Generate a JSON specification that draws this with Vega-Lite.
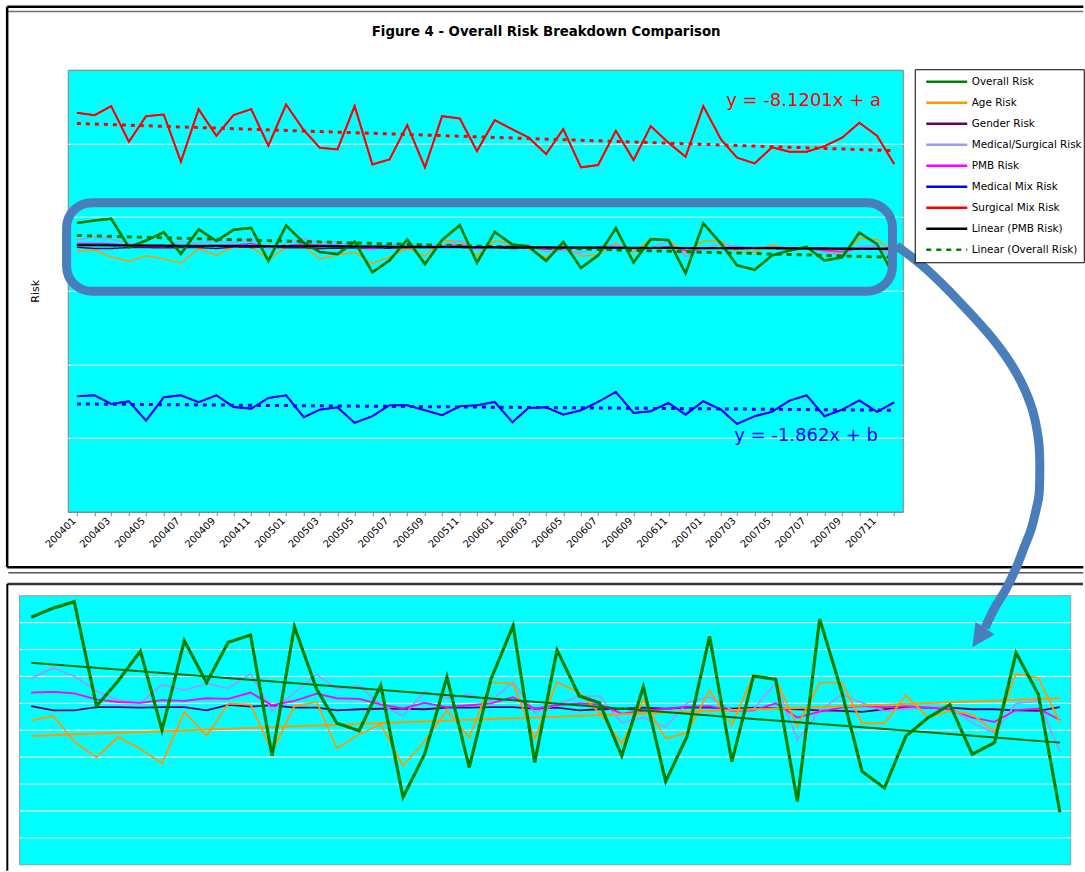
{
"$schema": "https://vega.github.io/schema/vega-lite/v6.json",
"background": "white",
"padding": {"left": 4.75, "top": 4.75, "right": 0, "bottom": 0},
"autosize": {"type": "pad"},
"config": {"font": "DejaVu Sans", "view": {"stroke": null}},
"datasets": {
"risk": [
{"date":"2004-01","series":"Medical Mix Risk","value":156.7},{"date":"2004-02","series":"Medical Mix Risk","value":158.1},{"date":"2004-03","series":"Medical Mix Risk","value":146.3},{"date":"2004-04","series":"Medical Mix Risk","value":150.0},{"date":"2004-05","series":"Medical Mix Risk","value":123.7},{"date":"2004-06","series":"Medical Mix Risk","value":155.4},{"date":"2004-07","series":"Medical Mix Risk","value":158.1},{"date":"2004-08","series":"Medical Mix Risk","value":148.6},{"date":"2004-09","series":"Medical Mix Risk","value":158.1},{"date":"2004-10","series":"Medical Mix Risk","value":142.3},{"date":"2004-11","series":"Medical Mix Risk","value":140.0},{"date":"2004-12","series":"Medical Mix Risk","value":154.5},
{"date":"2005-01","series":"Medical Mix Risk","value":158.1},{"date":"2005-02","series":"Medical Mix Risk","value":128.3},{"date":"2005-03","series":"Medical Mix Risk","value":138.6},{"date":"2005-04","series":"Medical Mix Risk","value":141.9},{"date":"2005-05","series":"Medical Mix Risk","value":120.6},{"date":"2005-06","series":"Medical Mix Risk","value":129.7},{"date":"2005-07","series":"Medical Mix Risk","value":144.6},{"date":"2005-08","series":"Medical Mix Risk","value":144.6},{"date":"2005-09","series":"Medical Mix Risk","value":137.8},{"date":"2005-10","series":"Medical Mix Risk","value":131.0},{"date":"2005-11","series":"Medical Mix Risk","value":143.2},{"date":"2005-12","series":"Medical Mix Risk","value":144.6},
{"date":"2006-01","series":"Medical Mix Risk","value":149.1},{"date":"2006-02","series":"Medical Mix Risk","value":121.5},{"date":"2006-03","series":"Medical Mix Risk","value":140.9},{"date":"2006-04","series":"Medical Mix Risk","value":141.9},{"date":"2006-05","series":"Medical Mix Risk","value":131.8},{"date":"2006-06","series":"Medical Mix Risk","value":137.8},{"date":"2006-07","series":"Medical Mix Risk","value":149.1},{"date":"2006-08","series":"Medical Mix Risk","value":162.6},{"date":"2006-09","series":"Medical Mix Risk","value":134.1},{"date":"2006-10","series":"Medical Mix Risk","value":136.4},{"date":"2006-11","series":"Medical Mix Risk","value":147.7},{"date":"2006-12","series":"Medical Mix Risk","value":131.8},
{"date":"2007-01","series":"Medical Mix Risk","value":150.0},{"date":"2007-02","series":"Medical Mix Risk","value":138.6},{"date":"2007-03","series":"Medical Mix Risk","value":119.2},{"date":"2007-04","series":"Medical Mix Risk","value":129.7},{"date":"2007-05","series":"Medical Mix Risk","value":135.5},{"date":"2007-06","series":"Medical Mix Risk","value":150.8},{"date":"2007-07","series":"Medical Mix Risk","value":158.1},{"date":"2007-08","series":"Medical Mix Risk","value":129.7},{"date":"2007-09","series":"Medical Mix Risk","value":138.6},{"date":"2007-10","series":"Medical Mix Risk","value":151.3},{"date":"2007-11","series":"Medical Mix Risk","value":135.5},{"date":"2007-12","series":"Medical Mix Risk","value":148.6},
{"date":"2004-01","series":"Surgical Mix Risk","value":541.6},{"date":"2004-02","series":"Surgical Mix Risk","value":538.4},{"date":"2004-03","series":"Surgical Mix Risk","value":550.6},{"date":"2004-04","series":"Surgical Mix Risk","value":502.3},{"date":"2004-05","series":"Surgical Mix Risk","value":537.0},{"date":"2004-06","series":"Surgical Mix Risk","value":539.3},{"date":"2004-07","series":"Surgical Mix Risk","value":475.2},{"date":"2004-08","series":"Surgical Mix Risk","value":546.5},{"date":"2004-09","series":"Surgical Mix Risk","value":510.4},{"date":"2004-10","series":"Surgical Mix Risk","value":538.4},{"date":"2004-11","series":"Surgical Mix Risk","value":546.5},{"date":"2004-12","series":"Surgical Mix Risk","value":496.9},
{"date":"2005-01","series":"Surgical Mix Risk","value":552.8},{"date":"2005-02","series":"Surgical Mix Risk","value":518.0},{"date":"2005-03","series":"Surgical Mix Risk","value":494.2},{"date":"2005-04","series":"Surgical Mix Risk","value":491.9},{"date":"2005-05","series":"Surgical Mix Risk","value":550.6},{"date":"2005-06","series":"Surgical Mix Risk","value":471.5},{"date":"2005-07","series":"Surgical Mix Risk","value":478.3},{"date":"2005-08","series":"Surgical Mix Risk","value":524.8},{"date":"2005-09","series":"Surgical Mix Risk","value":467.5},{"date":"2005-10","series":"Surgical Mix Risk","value":537.0},{"date":"2005-11","series":"Surgical Mix Risk","value":533.9},{"date":"2005-12","series":"Surgical Mix Risk","value":489.6},
{"date":"2006-01","series":"Surgical Mix Risk","value":531.6},{"date":"2006-02","series":"Surgical Mix Risk","value":519.0},{"date":"2006-03","series":"Surgical Mix Risk","value":508.1},{"date":"2006-04","series":"Surgical Mix Risk","value":485.5},{"date":"2006-05","series":"Surgical Mix Risk","value":519.4},{"date":"2006-06","series":"Surgical Mix Risk","value":467.5},{"date":"2006-07","series":"Surgical Mix Risk","value":470.6},{"date":"2006-08","series":"Surgical Mix Risk","value":517.2},{"date":"2006-09","series":"Surgical Mix Risk","value":477.4},{"date":"2006-10","series":"Surgical Mix Risk","value":523.5},{"date":"2006-11","series":"Surgical Mix Risk","value":500.9},{"date":"2006-12","series":"Surgical Mix Risk","value":481.9},
{"date":"2007-01","series":"Surgical Mix Risk","value":550.6},{"date":"2007-02","series":"Surgical Mix Risk","value":505.4},{"date":"2007-03","series":"Surgical Mix Risk","value":480.6},{"date":"2007-04","series":"Surgical Mix Risk","value":472.9},{"date":"2007-05","series":"Surgical Mix Risk","value":494.6},{"date":"2007-06","series":"Surgical Mix Risk","value":488.7},{"date":"2007-07","series":"Surgical Mix Risk","value":488.7},{"date":"2007-08","series":"Surgical Mix Risk","value":496.3},{"date":"2007-09","series":"Surgical Mix Risk","value":507.7},{"date":"2007-10","series":"Surgical Mix Risk","value":528.0},{"date":"2007-11","series":"Surgical Mix Risk","value":510.4},{"date":"2007-12","series":"Surgical Mix Risk","value":472.0},
{"date":"2004-01","series":"Age Risk","value":353.7},{"date":"2004-02","series":"Age Risk","value":355.3},{"date":"2004-03","series":"Age Risk","value":345.8},{"date":"2004-04","series":"Age Risk","value":339.9},{"date":"2004-05","series":"Age Risk","value":347.5},{"date":"2004-06","series":"Age Risk","value":343.0},{"date":"2004-07","series":"Age Risk","value":337.7},{"date":"2004-08","series":"Age Risk","value":356.8},{"date":"2004-09","series":"Age Risk","value":347.9},{"date":"2004-10","series":"Age Risk","value":359.9},{"date":"2004-11","series":"Age Risk","value":359.6},{"date":"2004-12","series":"Age Risk","value":342.1},
{"date":"2005-01","series":"Age Risk","value":359.0},{"date":"2005-02","series":"Age Risk","value":360.5},{"date":"2005-03","series":"Age Risk","value":343.3},{"date":"2005-04","series":"Age Risk","value":348.5},{"date":"2005-05","series":"Age Risk","value":352.2},{"date":"2005-06","series":"Age Risk","value":336.8},{"date":"2005-07","series":"Age Risk","value":346.0},{"date":"2005-08","series":"Age Risk","value":357.4},{"date":"2005-09","series":"Age Risk","value":347.3},{"date":"2005-10","series":"Age Risk","value":367.9},{"date":"2005-11","series":"Age Risk","value":367.3},{"date":"2005-12","series":"Age Risk","value":347.0},
{"date":"2006-01","series":"Age Risk","value":367.9},{"date":"2006-02","series":"Age Risk","value":364.0},{"date":"2006-03","series":"Age Risk","value":356.5},{"date":"2006-04","series":"Age Risk","value":345.1},{"date":"2006-05","series":"Age Risk","value":361.2},{"date":"2006-06","series":"Age Risk","value":346.9},{"date":"2006-07","series":"Age Risk","value":349.1},{"date":"2006-08","series":"Age Risk","value":364.9},{"date":"2006-09","series":"Age Risk","value":351.9},{"date":"2006-10","series":"Age Risk","value":370.7},{"date":"2006-11","series":"Age Risk","value":368.9},{"date":"2006-12","series":"Age Risk","value":351.6},
{"date":"2007-01","series":"Age Risk","value":367.7},{"date":"2007-02","series":"Age Risk","value":367.7},{"date":"2007-03","series":"Age Risk","value":352.6},{"date":"2007-04","series":"Age Risk","value":352.6},{"date":"2007-05","series":"Age Risk","value":363.0},{"date":"2007-06","series":"Age Risk","value":354.7},{"date":"2007-07","series":"Age Risk","value":357.2},{"date":"2007-08","series":"Age Risk","value":355.9},{"date":"2007-09","series":"Age Risk","value":349.4},{"date":"2007-10","series":"Age Risk","value":371.0},{"date":"2007-11","series":"Age Risk","value":369.5},{"date":"2007-12","series":"Age Risk","value":352.8},
{"date":"2004-01","series":"Medical/Surgical Risk","value":369.3},{"date":"2004-02","series":"Medical/Surgical Risk","value":373.2},{"date":"2004-03","series":"Medical/Surgical Risk","value":370.1},{"date":"2004-04","series":"Medical/Surgical Risk","value":364.6},{"date":"2004-05","series":"Medical/Surgical Risk","value":361.2},{"date":"2004-06","series":"Medical/Surgical Risk","value":360.2},{"date":"2004-07","series":"Medical/Surgical Risk","value":367.0},{"date":"2004-08","series":"Medical/Surgical Risk","value":364.9},{"date":"2004-09","series":"Medical/Surgical Risk","value":367.4},{"date":"2004-10","series":"Medical/Surgical Risk","value":365.6},{"date":"2004-11","series":"Medical/Surgical Risk","value":371.0},{"date":"2004-12","series":"Medical/Surgical Risk","value":357.2},
{"date":"2005-01","series":"Medical/Surgical Risk","value":364.0},{"date":"2005-02","series":"Medical/Surgical Risk","value":370.7},{"date":"2005-03","series":"Medical/Surgical Risk","value":365.4},{"date":"2005-04","series":"Medical/Surgical Risk","value":366.7},{"date":"2005-05","series":"Medical/Surgical Risk","value":359.3},{"date":"2005-06","series":"Medical/Surgical Risk","value":355.3},{"date":"2005-07","series":"Medical/Surgical Risk","value":364.3},{"date":"2005-08","series":"Medical/Surgical Risk","value":361.9},{"date":"2005-09","series":"Medical/Surgical Risk","value":363.3},{"date":"2005-10","series":"Medical/Surgical Risk","value":360.9},{"date":"2005-11","series":"Medical/Surgical Risk","value":367.9},{"date":"2005-12","series":"Medical/Surgical Risk","value":356.5},
{"date":"2006-01","series":"Medical/Surgical Risk","value":359.6},{"date":"2006-02","series":"Medical/Surgical Risk","value":362.7},{"date":"2006-03","series":"Medical/Surgical Risk","value":362.7},{"date":"2006-04","series":"Medical/Surgical Risk","value":352.8},{"date":"2006-05","series":"Medical/Surgical Risk","value":354.7},{"date":"2006-06","series":"Medical/Surgical Risk","value":351.2},{"date":"2006-07","series":"Medical/Surgical Risk","value":360.2},{"date":"2006-08","series":"Medical/Surgical Risk","value":362.5},{"date":"2006-09","series":"Medical/Surgical Risk","value":357.5},{"date":"2006-10","series":"Medical/Surgical Risk","value":357.8},{"date":"2006-11","series":"Medical/Surgical Risk","value":367.7},{"date":"2006-12","series":"Medical/Surgical Risk","value":346.3},
{"date":"2007-01","series":"Medical/Surgical Risk","value":357.2},{"date":"2007-02","series":"Medical/Surgical Risk","value":363.3},{"date":"2007-03","series":"Medical/Surgical Risk","value":360.2},{"date":"2007-04","series":"Medical/Surgical Risk","value":357.2},{"date":"2007-05","series":"Medical/Surgical Risk","value":358.0},{"date":"2007-06","series":"Medical/Surgical Risk","value":358.8},{"date":"2007-07","series":"Medical/Surgical Risk","value":358.4},{"date":"2007-08","series":"Medical/Surgical Risk","value":352.8},{"date":"2007-09","series":"Medical/Surgical Risk","value":348.9},{"date":"2007-10","series":"Medical/Surgical Risk","value":360.0},{"date":"2007-11","series":"Medical/Surgical Risk","value":360.9},{"date":"2007-12","series":"Medical/Surgical Risk","value":342.0},
{"date":"2004-01","series":"Gender Risk","value":359.0},{"date":"2004-02","series":"Gender Risk","value":357.4},{"date":"2004-03","series":"Gender Risk","value":357.4},{"date":"2004-04","series":"Gender Risk","value":358.6},{"date":"2004-05","series":"Gender Risk","value":358.6},{"date":"2004-06","series":"Gender Risk","value":358.4},{"date":"2004-07","series":"Gender Risk","value":358.6},{"date":"2004-08","series":"Gender Risk","value":358.6},{"date":"2004-09","series":"Gender Risk","value":357.4},{"date":"2004-10","series":"Gender Risk","value":359.4},{"date":"2004-11","series":"Gender Risk","value":358.8},{"date":"2004-12","series":"Gender Risk","value":359.3},
{"date":"2005-01","series":"Gender Risk","value":358.4},{"date":"2005-02","series":"Gender Risk","value":358.4},{"date":"2005-03","series":"Gender Risk","value":357.4},{"date":"2005-04","series":"Gender Risk","value":357.8},{"date":"2005-05","series":"Gender Risk","value":358.0},{"date":"2005-06","series":"Gender Risk","value":358.0},{"date":"2005-07","series":"Gender Risk","value":357.8},{"date":"2005-08","series":"Gender Risk","value":358.4},{"date":"2005-09","series":"Gender Risk","value":358.4},{"date":"2005-10","series":"Gender Risk","value":358.6},{"date":"2005-11","series":"Gender Risk","value":358.6},{"date":"2005-12","series":"Gender Risk","value":358.0},
{"date":"2006-01","series":"Gender Risk","value":358.4},{"date":"2006-02","series":"Gender Risk","value":357.4},{"date":"2006-03","series":"Gender Risk","value":357.8},{"date":"2006-04","series":"Gender Risk","value":358.0},{"date":"2006-05","series":"Gender Risk","value":358.4},{"date":"2006-06","series":"Gender Risk","value":358.0},{"date":"2006-07","series":"Gender Risk","value":358.4},{"date":"2006-08","series":"Gender Risk","value":358.4},{"date":"2006-09","series":"Gender Risk","value":358.0},{"date":"2006-10","series":"Gender Risk","value":358.4},{"date":"2006-11","series":"Gender Risk","value":358.1},{"date":"2006-12","series":"Gender Risk","value":357.8},
{"date":"2007-01","series":"Gender Risk","value":357.4},{"date":"2007-02","series":"Gender Risk","value":357.2},{"date":"2007-03","series":"Gender Risk","value":356.8},{"date":"2007-04","series":"Gender Risk","value":357.8},{"date":"2007-05","series":"Gender Risk","value":358.4},{"date":"2007-06","series":"Gender Risk","value":358.4},{"date":"2007-07","series":"Gender Risk","value":358.4},{"date":"2007-08","series":"Gender Risk","value":357.8},{"date":"2007-09","series":"Gender Risk","value":357.8},{"date":"2007-10","series":"Gender Risk","value":357.4},{"date":"2007-11","series":"Gender Risk","value":357.2},{"date":"2007-12","series":"Gender Risk","value":358.6},
{"date":"2004-01","series":"PMB Risk","value":364.0},{"date":"2004-02","series":"PMB Risk","value":364.3},{"date":"2004-03","series":"PMB Risk","value":363.7},{"date":"2004-04","series":"PMB Risk","value":361.5},{"date":"2004-05","series":"PMB Risk","value":360.5},{"date":"2004-06","series":"PMB Risk","value":360.2},{"date":"2004-07","series":"PMB Risk","value":361.2},{"date":"2004-08","series":"PMB Risk","value":360.9},{"date":"2004-09","series":"PMB Risk","value":361.9},{"date":"2004-10","series":"PMB Risk","value":361.7},{"date":"2004-11","series":"PMB Risk","value":364.0},{"date":"2004-12","series":"PMB Risk","value":359.3},
{"date":"2005-01","series":"PMB Risk","value":360.9},{"date":"2005-02","series":"PMB Risk","value":363.6},{"date":"2005-03","series":"PMB Risk","value":361.9},{"date":"2005-04","series":"PMB Risk","value":361.7},{"date":"2005-05","series":"PMB Risk","value":359.6},{"date":"2005-06","series":"PMB Risk","value":358.1},{"date":"2005-07","series":"PMB Risk","value":360.2},{"date":"2005-08","series":"PMB Risk","value":358.6},{"date":"2005-09","series":"PMB Risk","value":359.3},{"date":"2005-10","series":"PMB Risk","value":360.0},{"date":"2005-11","series":"PMB Risk","value":362.3},{"date":"2005-12","series":"PMB Risk","value":358.0},
{"date":"2006-01","series":"PMB Risk","value":359.3},{"date":"2006-02","series":"PMB Risk","value":360.0},{"date":"2006-03","series":"PMB Risk","value":359.6},{"date":"2006-04","series":"PMB Risk","value":356.2},{"date":"2006-05","series":"PMB Risk","value":357.2},{"date":"2006-06","series":"PMB Risk","value":358.0},{"date":"2006-07","series":"PMB Risk","value":358.8},{"date":"2006-08","series":"PMB Risk","value":359.0},{"date":"2006-09","series":"PMB Risk","value":357.2},{"date":"2006-10","series":"PMB Risk","value":357.4},{"date":"2006-11","series":"PMB Risk","value":360.0},{"date":"2006-12","series":"PMB Risk","value":354.7},
{"date":"2007-01","series":"PMB Risk","value":356.9},{"date":"2007-02","series":"PMB Risk","value":358.4},{"date":"2007-03","series":"PMB Risk","value":359.0},{"date":"2007-04","series":"PMB Risk","value":358.6},{"date":"2007-05","series":"PMB Risk","value":359.0},{"date":"2007-06","series":"PMB Risk","value":358.4},{"date":"2007-07","series":"PMB Risk","value":357.8},{"date":"2007-08","series":"PMB Risk","value":354.7},{"date":"2007-09","series":"PMB Risk","value":353.1},{"date":"2007-10","series":"PMB Risk","value":357.5},{"date":"2007-11","series":"PMB Risk","value":358.0},{"date":"2007-12","series":"PMB Risk","value":353.8},
{"date":"2004-01","series":"Overall Risk","value":392.0},{"date":"2004-02","series":"Overall Risk","value":395.4},{"date":"2004-03","series":"Overall Risk","value":397.8},{"date":"2004-04","series":"Overall Risk","value":359.0},{"date":"2004-05","series":"Overall Risk","value":368.3},{"date":"2004-06","series":"Overall Risk","value":379.4},{"date":"2004-07","series":"Overall Risk","value":350.0},{"date":"2004-08","series":"Overall Risk","value":383.3},{"date":"2004-09","series":"Overall Risk","value":367.7},{"date":"2004-10","series":"Overall Risk","value":382.7},{"date":"2004-11","series":"Overall Risk","value":385.4},{"date":"2004-12","series":"Overall Risk","value":340.5},
{"date":"2005-01","series":"Overall Risk","value":388.5},{"date":"2005-02","series":"Overall Risk","value":365.2},{"date":"2005-03","series":"Overall Risk","value":352.6},{"date":"2005-04","series":"Overall Risk","value":349.8},{"date":"2005-05","series":"Overall Risk","value":366.7},{"date":"2005-06","series":"Overall Risk","value":325.1},{"date":"2005-07","series":"Overall Risk","value":341.1},{"date":"2005-08","series":"Overall Risk","value":369.8},{"date":"2005-09","series":"Overall Risk","value":336.2},{"date":"2005-10","series":"Overall Risk","value":368.9},{"date":"2005-11","series":"Overall Risk","value":388.9},{"date":"2005-12","series":"Overall Risk","value":338.0},
{"date":"2006-01","series":"Overall Risk","value":379.8},{"date":"2006-02","series":"Overall Risk","value":362.7},{"date":"2006-03","series":"Overall Risk","value":360.2},{"date":"2006-04","series":"Overall Risk","value":340.5},{"date":"2006-05","series":"Overall Risk","value":366.2},{"date":"2006-06","series":"Overall Risk","value":331.0},{"date":"2006-07","series":"Overall Risk","value":347.9},{"date":"2006-08","series":"Overall Risk","value":384.9},{"date":"2006-09","series":"Overall Risk","value":338.3},{"date":"2006-10","series":"Overall Risk","value":370.1},{"date":"2006-11","series":"Overall Risk","value":368.9},{"date":"2006-12","series":"Overall Risk","value":323.5},
{"date":"2007-01","series":"Overall Risk","value":391.4},{"date":"2007-02","series":"Overall Risk","value":364.0},{"date":"2007-03","series":"Overall Risk","value":334.7},{"date":"2007-04","series":"Overall Risk","value":328.5},{"date":"2007-05","series":"Overall Risk","value":347.9},{"date":"2007-06","series":"Overall Risk","value":354.7},{"date":"2007-07","series":"Overall Risk","value":359.5},{"date":"2007-08","series":"Overall Risk","value":341.1},{"date":"2007-09","series":"Overall Risk","value":345.4},{"date":"2007-10","series":"Overall Risk","value":378.8},{"date":"2007-11","series":"Overall Risk","value":363.3},{"date":"2007-12","series":"Overall Risk","value":319.5},
{"date":"2004-01","series":"Linear (PMB Risk)","value":361.8},{"date":"2007-12","series":"Linear (PMB Risk)","value":356.8},
{"date":"2004-01","series":"Linear (Overall Risk)","value":375.1},{"date":"2007-12","series":"Linear (Overall Risk)","value":345.4},
{"date":"2004-01","series":"Linear (Surgical Mix Risk)","value":527.1},{"date":"2007-12","series":"Linear (Surgical Mix Risk)","value":490.1},
{"date":"2004-01","series":"Linear (Medical Mix Risk)","value":146.3},{"date":"2007-12","series":"Linear (Medical Mix Risk)","value":137.8},
{"date":"2004-01","series":"Linear (Age Risk)","value":347.9},{"date":"2007-12","series":"Linear (Age Risk)","value":361.9}
],
"arrowOut": [
{"date":"2007-04-18","value":530.1},{"date":"2007-05-29","value":521.5},{"date":"2007-07-15","value":509.1},{"date":"2007-08-30","value":495.4},{"date":"2007-10-01","value":483.0},{"date":"2007-10-22","value":470.6},{"date":"2007-11-01","value":458.3},{"date":"2007-11-03","value":447.1}
],
"arrowBack": [
{"date":"2007-11-03","value":447.1},{"date":"2007-11-02","value":437.8},{"date":"2007-10-29","value":432.2},{"date":"2007-10-22","value":424.8},{"date":"2007-10-13","value":418.5},{"date":"2007-10-01","value":410.3},{"date":"2007-09-17","value":402.5},{"date":"2007-09-02","value":395.8},{"date":"2007-08-22","value":389.9},{"date":"2007-08-19","value":387.9}
],
"gridLevels": [{"level":310},{"level":320},{"level":330},{"level":340},{"level":350},{"level":360},{"level":370},{"level":380},{"level":390}]
},
"columns": 1,
"align": "none",
"spacing": -347,
"concat": [
{
"width": 835, "height": 442,
"view": {"fill": "#00FFFF", "stroke": "#808080"},
"layer": [
{"data": {"values": [{}]}, "mark": {"type": "rule", "color": "black", "strokeWidth": 2.5, "clip": false},
 "encoding": {"x": {"datum": {"expr": "utc(2003,8,1)"}, "type": "temporal"}, "x2": {"datum": {"expr": "utc(2008,9,27)"}}, "y": {"datum": 685.5, "type": "quantitative"}}},
{"data": {"values": [{}]}, "mark": {"type": "rule", "color": "#707070", "strokeWidth": 1.5, "clip": false},
 "encoding": {"x": {"datum": {"expr": "utc(2003,8,3)"}, "type": "temporal"}, "x2": {"datum": {"expr": "utc(2008,9,27)"}}, "y": {"datum": 679.1, "type": "quantitative"}}},
{"data": {"values": [{}]}, "mark": {"type": "rule", "color": "black", "strokeWidth": 2.5, "clip": false},
 "encoding": {"x": {"datum": {"expr": "utc(2003,8,1)"}, "type": "temporal"}, "y": {"datum": 685.5, "type": "quantitative"}, "y2": {"datum": -75.3}}},
{"data": {"values": [{}]}, "mark": {"type": "rule", "color": "black", "strokeWidth": 2.5, "clip": false},
 "encoding": {"x": {"datum": {"expr": "utc(2003,8,1)"}, "type": "temporal"}, "x2": {"datum": {"expr": "utc(2008,9,27)"}}, "y": {"datum": -75.3, "type": "quantitative"}}},
{"data": {"values": [{}]}, "mark": {"type": "rule", "color": "#555555", "strokeWidth": 1.5, "clip": false},
 "encoding": {"x": {"datum": {"expr": "utc(2003,8,3)"}, "type": "temporal"}, "x2": {"datum": {"expr": "utc(2008,9,27)"}}, "y": {"datum": -82.8, "type": "quantitative"}}},
{"data": {"values": [{}]}, "mark": {"type": "text", "text": "Figure 4 - Overall Risk Breakdown Comparison", "font": "DejaVu Sans", "fontSize": 13.3, "fontWeight": "bold", "color": "black", "align": "center", "baseline": "alphabetic", "clip": false},
 "encoding": {"x": {"datum": {"expr": "utc(2006,3,1)"}, "type": "temporal"}, "y": {"datum": 645.2, "type": "quantitative"}}},
{"data": {"name": "risk"}, "transform": [{"filter": "datum.series === 'Linear (Surgical Mix Risk)'"}],
 "mark": {"type": "line", "color": "#FF0000", "strokeWidth": 3, "strokeDash": [4, 5]},
 "encoding": {"x": {"field": "date", "type": "temporal"}, "y": {"field": "value", "type": "quantitative"}}},
{"data": {"name": "risk"}, "transform": [{"filter": "datum.series === 'Linear (Medical Mix Risk)'"}],
 "mark": {"type": "line", "color": "#0000FF", "strokeWidth": 3, "strokeDash": [4, 5]},
 "encoding": {"x": {"field": "date", "type": "temporal"}, "y": {"field": "value", "type": "quantitative"}}},
{"data": {"name": "risk"},
 "transform": [{"filter": {"field": "series", "oneOf": ["Overall Risk", "Age Risk", "Gender Risk", "Medical/Surgical Risk", "PMB Risk", "Medical Mix Risk", "Surgical Mix Risk", "Linear (PMB Risk)", "Linear (Overall Risk)"]}}],
 "mark": {"type": "line", "strokeWidth": 1.5},
 "encoding": {
  "x": {"field": "date", "type": "temporal",
   "scale": {"type": "utc", "domain": ["2003-12-16", "2007-12-16"]},
   "axis": {"title": null, "grid": false, "tickCount": {"interval": "month", "step": 1},
    "labelExpr": "utcmonth(datum.value) % 2 == 0 ? utcFormat(datum.value, '%Y%m') : ''",
    "labelAngle": -45, "labelAlign": "right", "labelBaseline": "middle", "labelFont": "DejaVu Sans", "labelFontSize": 10, "labelColor": "black",
    "labelOverlap": false, "labelBound": false, "labelFlush": false, "labelPadding": 3, "labelOffset": -3, "tickSize": 4, "tickColor": "#808080", "domainColor": "#808080"}},
  "y": {"field": "value", "type": "quantitative", "scale": {"domain": [0, 600], "nice": false, "zero": false},
   "axis": {"title": "Risk", "titleFont": "DejaVu Sans", "titleFontSize": 11, "titleFontWeight": "normal", "titleColor": "black", "titlePadding": 27,
    "labels": false, "ticks": false, "domain": false, "grid": true, "gridColor": "white", "gridWidth": 1, "gridOpacity": 1, "values": [100, 200, 300, 400, 500]}},
  "color": {"field": "series", "type": "nominal",
   "scale": {"domain": ["Overall Risk", "Age Risk", "Gender Risk", "Medical/Surgical Risk", "PMB Risk", "Medical Mix Risk", "Surgical Mix Risk", "Linear (PMB Risk)", "Linear (Overall Risk)"],
    "range": ["#008000", "#FF9900", "#660066", "#9999FF", "#FF00FF", "#0000FF", "#FF0000", "#000000", "#008000"]},
   "legend": {"title": null, "orient": "none", "legendX": 847, "legendY": -0.5, "padding": 2, "strokeColor": "black", "fillColor": "white",
    "symbolType": "stroke", "symbolSize": 1681, "symbolOffset": 8, "symbolStrokeWidth": 2.5, "clipHeight": 21, "rowPadding": 0,
    "labelFont": "DejaVu Sans", "labelFontSize": 10.4, "labelColor": "black", "labelOffset": 3, "labelLimit": 300}},
  "strokeDash": {"field": "series", "type": "nominal",
   "scale": {"domain": ["Overall Risk", "Age Risk", "Gender Risk", "Medical/Surgical Risk", "PMB Risk", "Medical Mix Risk", "Surgical Mix Risk", "Linear (PMB Risk)", "Linear (Overall Risk)"],
    "range": [[1, 0], [1, 0], [1, 0], [1, 0], [1, 0], [1, 0], [1, 0], [1, 0], [5, 5]]}}
 }},
{"data": {"name": "risk"}, "transform": [{"filter": "datum.series === 'Medical Mix Risk'"}],
 "mark": {"type": "line", "color": "#0000FF", "strokeWidth": 2},
 "encoding": {"x": {"field": "date", "type": "temporal"}, "y": {"field": "value", "type": "quantitative"}}},
{"data": {"name": "risk"}, "transform": [{"filter": "datum.series === 'Surgical Mix Risk'"}],
 "mark": {"type": "line", "color": "#FF0000", "strokeWidth": 2},
 "encoding": {"x": {"field": "date", "type": "temporal"}, "y": {"field": "value", "type": "quantitative"}}},
{"data": {"name": "risk"}, "transform": [{"filter": "datum.series === 'Overall Risk'"}],
 "mark": {"type": "line", "color": "#008000", "strokeWidth": 2.7},
 "encoding": {"x": {"field": "date", "type": "temporal"}, "y": {"field": "value", "type": "quantitative"}}},
{"data": {"name": "risk"}, "transform": [{"filter": "datum.series === 'Linear (Overall Risk)'"}],
 "mark": {"type": "line", "color": "#008000", "strokeWidth": 3, "strokeDash": [5, 5]},
 "encoding": {"x": {"field": "date", "type": "temporal"}, "y": {"field": "value", "type": "quantitative"}}},
{"data": {"name": "risk"}, "transform": [{"filter": "datum.series === 'Linear (PMB Risk)'"}],
 "mark": {"type": "line", "color": "#000000", "strokeWidth": 2},
 "encoding": {"x": {"field": "date", "type": "temporal"}, "y": {"field": "value", "type": "quantitative"}}},
{"data": {"values": [{}]}, "mark": {"type": "rect", "filled": false, "color": "#4A7EBB", "strokeWidth": 9, "cornerRadius": 25, "clip": false},
 "encoding": {"x": {"datum": {"expr": "utc(2003,11,14)"}, "type": "temporal"}, "x2": {"datum": {"expr": "utc(2007,10,28)"}}, "y": {"datum": 419.5, "type": "quantitative"}, "y2": {"datum": 299.3}}},
{"data": {"values": [{}]}, "mark": {"type": "text", "text": "y = -8.1201x + a", "color": "#FF0000", "font": "DejaVu Sans", "fontSize": 18, "align": "left", "baseline": "middle"},
 "encoding": {"x": {"datum": {"expr": "utc(2007,1,10)"}, "type": "temporal"}, "y": {"datum": 557, "type": "quantitative"}}},
{"data": {"values": [{}]}, "mark": {"type": "text", "text": "y = -1.862x + b", "color": "#0000FF", "font": "DejaVu Sans", "fontSize": 18, "align": "left", "baseline": "middle"},
 "encoding": {"x": {"datum": {"expr": "utc(2007,1,24)"}, "type": "temporal"}, "y": {"datum": 102.8, "type": "quantitative"}}}
]
},
{
"width": 1003, "height": 269,
"view": {"fill": null, "stroke": null},
"layer": [
{"data": {"values": [{}]}, "mark": {"type": "rect", "color": "#00FFFF", "stroke": "#999999", "strokeWidth": 1, "clip": false},
 "encoding": {"x": {"datum": {"expr": "utc(2003,11,16)"}, "type": "temporal", "scale": {"type": "utc", "domain": ["2004-02-21", "2007-12-16"]}, "axis": null}, "x2": {"datum": {"expr": "utc(2007,11,16)"}},
  "y": {"datum": 400, "type": "quantitative", "scale": {"domain": [300, 400], "nice": false, "zero": false}, "axis": null}, "y2": {"datum": 300}}},
{"data": {"name": "gridLevels"}, "mark": {"type": "rule", "color": "white", "strokeWidth": 1, "clip": false},
 "encoding": {"x": {"datum": {"expr": "utc(2003,11,16)"}, "type": "temporal", "axis": null}, "x2": {"datum": {"expr": "utc(2007,11,16)"}}, "y": {"field": "level", "type": "quantitative", "axis": null}}},
{"data": {"values": [{}]}, "mark": {"type": "rule", "color": "#333333", "strokeWidth": 2.5, "clip": false},
 "encoding": {"x": {"datum": {"expr": "utc(2003,10,29)"}, "type": "temporal", "axis": null}, "x2": {"datum": {"expr": "utc(2008,0,2)"}}, "y": {"datum": 404.35, "type": "quantitative", "axis": null}}},
{"data": {"values": [{}]}, "mark": {"type": "rule", "color": "black", "strokeWidth": 2, "clip": false},
 "encoding": {"x": {"datum": {"expr": "utc(2003,10,29)"}, "type": "temporal", "axis": null}, "y": {"datum": 404.35, "type": "quantitative", "axis": null}, "y2": {"datum": 297.8}}},
{"data": {"name": "risk"}, "transform": [{"filter": "datum.series === 'Gender Risk'"}],
 "mark": {"type": "line", "clip": false, "color": "#660066", "strokeWidth": 1.8},
 "encoding": {"x": {"field": "date", "type": "temporal", "axis": null}, "y": {"field": "value", "type": "quantitative", "axis": null}}},
{"data": {"name": "risk"}, "transform": [{"filter": "datum.series === 'Medical/Surgical Risk'"}],
 "mark": {"type": "line", "clip": false, "color": "#9999FF", "strokeWidth": 1.8},
 "encoding": {"x": {"field": "date", "type": "temporal", "axis": null}, "y": {"field": "value", "type": "quantitative", "axis": null}}},
{"data": {"name": "risk"}, "transform": [{"filter": "datum.series === 'PMB Risk'"}],
 "mark": {"type": "line", "clip": false, "color": "#FF00FF", "strokeWidth": 1.8},
 "encoding": {"x": {"field": "date", "type": "temporal", "axis": null}, "y": {"field": "value", "type": "quantitative", "axis": null}}},
{"data": {"name": "risk"}, "transform": [{"filter": "datum.series === 'Age Risk'"}],
 "mark": {"type": "line", "clip": false, "color": "#FF9900", "strokeWidth": 1.8},
 "encoding": {"x": {"field": "date", "type": "temporal", "axis": null}, "y": {"field": "value", "type": "quantitative", "axis": null}}},
{"data": {"name": "risk"}, "transform": [{"filter": "datum.series === 'Linear (Age Risk)'"}],
 "mark": {"type": "line", "clip": false, "color": "#FF9900", "strokeWidth": 2},
 "encoding": {"x": {"field": "date", "type": "temporal", "axis": null}, "y": {"field": "value", "type": "quantitative", "axis": null}}},
{"data": {"name": "risk"}, "transform": [{"filter": "datum.series === 'Linear (Overall Risk)'"}],
 "mark": {"type": "line", "clip": false, "color": "#007000", "strokeWidth": 2},
 "encoding": {"x": {"field": "date", "type": "temporal", "axis": null}, "y": {"field": "value", "type": "quantitative", "axis": null}}},
{"data": {"name": "risk"}, "transform": [{"filter": "datum.series === 'Overall Risk'"}],
 "mark": {"type": "line", "clip": false, "color": "#008000", "strokeWidth": 3.2},
 "encoding": {"x": {"field": "date", "type": "temporal", "axis": null}, "y": {"field": "value", "type": "quantitative", "axis": null}}},
{"data": {"name": "arrowOut"},
 "mark": {"type": "line", "color": "#4A7EBB", "strokeWidth": 9, "interpolate": "cardinal", "clip": false},
 "encoding": {"x": {"field": "date", "type": "temporal", "axis": null}, "y": {"field": "value", "type": "quantitative", "axis": null}}},
{"data": {"name": "arrowBack"},
 "mark": {"type": "line", "color": "#4A7EBB", "strokeWidth": 9, "interpolate": "cardinal", "clip": false},
 "encoding": {"x": {"field": "date", "type": "temporal", "axis": null}, "y": {"field": "value", "type": "quantitative", "axis": null}}},
{"data": {"values": [{}]},
 "mark": {"type": "point", "shape": "M0,-1L1,1L-1,1Z", "size": 529, "angle": 213.6, "filled": true, "color": "#4A7EBB", "opacity": 1, "strokeWidth": 0, "clip": false},
 "encoding": {"x": {"datum": {"expr": "utc(2007,7,10)"}, "type": "temporal", "axis": null}, "y": {"datum": 384.4, "type": "quantitative", "axis": null}}}
]
}
]
}
